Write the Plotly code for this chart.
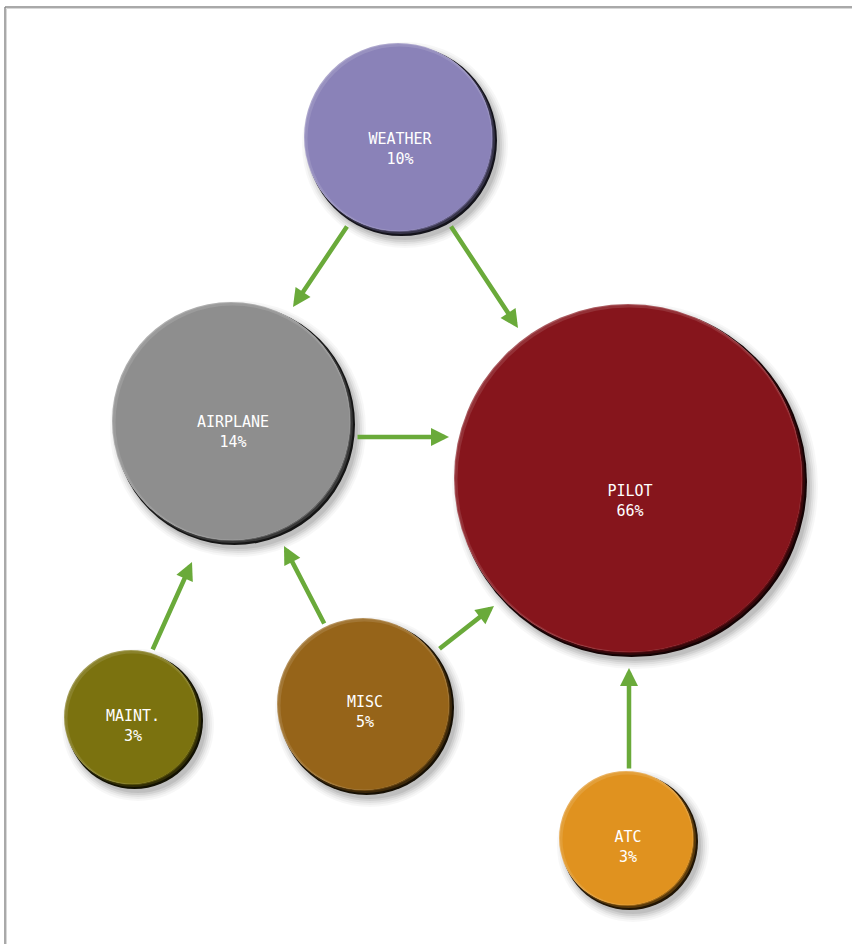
import plotly.graph_objects as go

# ---- data ----
labels = ["WEATHER", "AIRPLANE", "PILOT", "MAINT.", "MISC", "ATC"]
shares = [10, 14, 66, 3, 5, 3]
edge_from = ["WEATHER", "WEATHER", "AIRPLANE", "MAINT.", "MISC", "MISC", "ATC"]
edge_to = ["AIRPLANE", "PILOT", "PILOT", "AIRPLANE", "AIRPLANE", "PILOT", "PILOT"]

# ---- layout / style ----
node_x = [400, 233, 630, 133, 365, 628]
node_y = [139, 423, 480, 719, 706, 840]
node_r = [97, 122, 177, 70, 89, 70]
label_dy = [11, 10, 22, 8, 7, 8]
node_color = ["#8a82b8", "#8e8e8e", "#86151c", "#7b720f", "#966419", "#e0921f"]
# arrow tail / tip points (pixel positions)
arrow_tail = [(348, 225), (450, 225), (356, 437), (152, 651), (325, 625), (438, 650), (629, 770)]
arrow_tip = [(293, 307), (518, 328), (449, 437), (192, 562), (284, 546), (494, 606), (629, 668)]
arrow_color = "#6aaa3a"


def hex_to_rgb(h):
    h = h.lstrip("#")
    return tuple(int(h[i:i + 2], 16) for i in (0, 2, 4))


def shade(h, f):
    r, g, b = hex_to_rgb(h)
    if f < 1:
        return "rgb(%d,%d,%d)" % (r * f, g * f, b * f)
    f = f - 1
    return "rgb(%d,%d,%d)" % (r + (255 - r) * f, g + (255 - g) * f, b + (255 - b) * f)


def circ(cx, cy, r, color):
    return dict(type="circle", xref="x", yref="y", x0=cx - r, x1=cx + r, y0=cy - r, y1=cy + r,
                fillcolor=color, line=dict(width=0), layer="below")


shapes = []
# border lines
shapes.append(dict(type="line", xref="x", yref="y", x0=5, x1=852, y0=7, y1=7,
                   line=dict(color="#8c8c8c", width=1.5)))
shapes.append(dict(type="line", xref="x", yref="y", x0=5, x1=5, y0=7, y1=944,
                   line=dict(color="#8c8c8c", width=1.5)))
shapes.append(dict(type="line", xref="x", yref="y", x0=6.5, x1=852, y0=8.5, y1=8.5,
                   line=dict(color="#d8d8d8", width=1)))
shapes.append(dict(type="line", xref="x", yref="y", x0=6.5, x1=6.5, y0=8.5, y1=944,
                   line=dict(color="#d8d8d8", width=1)))

for cx, cy, r, c in zip(node_x, node_y, node_r, node_color):
    # soft drop shadow
    for k, a in [(10, 0.03), (8, 0.04), (6, 0.05), (4, 0.07), (2, 0.08)]:
        shapes.append(circ(cx + 5, cy + 6, r + k - 4, "rgba(0,0,0,%g)" % a))
    # dark rim (lower right), graded
    shapes.append(circ(cx + 1.5, cy + 1.5, r - 1.5, shade(c, 0.15)))
    shapes.append(circ(cx + 0.5, cy + 0.5, r - 2.5, shade(c, 0.4)))
    shapes.append(circ(cx - 0.5, cy - 0.5, r - 3.5, shade(c, 0.72)))
    # light rim (upper left)
    shapes.append(circ(cx - 2, cy - 2, r - 3, shade(c, 1.3)))
    shapes.append(circ(cx - 1.5, cy - 1.5, r - 3.5, shade(c, 1.12)))
    # main body
    shapes.append(circ(cx - 0.5, cy - 0.5, r - 5, c))

fig = go.Figure()
fig.add_trace(go.Scatter(
    x=node_x, y=[y + d for y, d in zip(node_y, label_dy)], mode="text",
    text=["%s<br>%d%%" % (l, s) for l, s in zip(labels, shares)],
    textfont=dict(family="DejaVu Sans Mono", size=15, color="white"),
    hoverinfo="skip", showlegend=False))

annotations = []
for (tx, ty), (hx, hy) in zip(arrow_tail, arrow_tip):
    annotations.append(dict(x=hx, y=hy, ax=tx, ay=ty, xref="x", yref="y", axref="x", ayref="y",
                            showarrow=True, arrowhead=2, arrowsize=0.8, arrowwidth=4.5,
                            arrowcolor=arrow_color, text=""))

fig.update_layout(
    width=852, height=944, margin=dict(l=0, r=0, t=0, b=0),
    paper_bgcolor="white", plot_bgcolor="white",
    xaxis=dict(range=[0, 852], visible=False, fixedrange=True),
    yaxis=dict(range=[944, 0], visible=False, fixedrange=True),
    shapes=shapes, annotations=annotations, showlegend=False)

fig.write_html("out.html", config={"displayModeBar": False},
               post_script="document.body.style.margin='0';document.body.style.overflow='hidden';")
